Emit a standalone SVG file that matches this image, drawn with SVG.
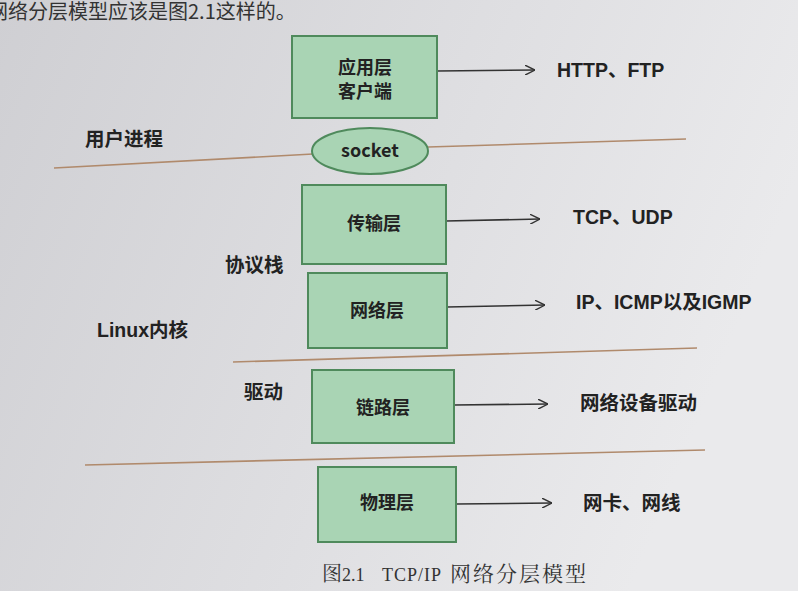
<svg xmlns="http://www.w3.org/2000/svg" width="798" height="591" viewBox="0 0 798 591">
<defs>
<linearGradient id="paper" x1="0" y1="0" x2="1" y2="0.3">
<stop offset="0" stop-color="#cfcfd3"/>
<stop offset="0.6" stop-color="#dfdfe2"/>
<stop offset="1" stop-color="#eaeaec"/>
</linearGradient>
<marker id="arr" viewBox="0 0 10 10" refX="10" refY="5" markerWidth="10" markerHeight="10" markerUnits="userSpaceOnUse" orient="auto">
<path d="M0,0 L10,5 L0,10" fill="none" stroke="#333" stroke-width="1.4"/>
</marker>
<style>
.box{fill:#a9d4b4;stroke:#4f8a5c;stroke-width:2}
.lbl{font-family:"Noto Sans CJK SC","Liberation Sans",sans-serif;font-weight:bold;font-size:18px;fill:#222;text-anchor:middle}
.side{font-family:"Liberation Sans","Noto Sans CJK SC",sans-serif;font-weight:bold;font-size:19.5px;fill:#222}
.sep{stroke:#b08a6c;stroke-width:1.6;fill:none}
.conn{stroke:#333;stroke-width:1.6;fill:none;marker-end:url(#arr)}
.cap{font-family:"Liberation Serif","Noto Serif CJK SC","Noto Sans CJK SC",serif;font-size:18px;fill:#333}
</style>
</defs>
<rect x="0" y="0" width="798" height="591" fill="url(#paper)"/>
<text x="-12" y="19" font-family="Noto Sans CJK SC, sans-serif" font-size="20" fill="#333">网络分层模型应该是图2.1这样的。</text>

<g id="separators">
<line class="sep" x1="54" y1="168" x2="313" y2="154"/>
<line class="sep" x1="428" y1="147" x2="686" y2="139"/>
<line class="sep" x1="233" y1="362" x2="697" y2="348"/>
<line class="sep" x1="85" y1="465" x2="705" y2="450"/>
</g>

<g id="connectors">
<line class="conn" x1="437" y1="71" x2="535" y2="70"/>
<line class="conn" x1="446" y1="221" x2="540" y2="219"/>
<line class="conn" x1="447" y1="307" x2="545" y2="305"/>
<line class="conn" x1="454" y1="405" x2="548" y2="404"/>
<line class="conn" x1="456" y1="504" x2="552" y2="503"/>
</g>

<g id="app">
<rect class="box" x="292" y="36" width="145" height="82"/>
<text class="lbl" x="365" y="74">应用层</text>
<text class="lbl" x="365" y="98">客户端</text>
</g>
<g id="socket">
<ellipse cx="370" cy="151" rx="58" ry="23" fill="#a9d4b4" stroke="#4f8a5c" stroke-width="2"/>
<text class="lbl" x="370" y="157" font-family="Liberation Sans, sans-serif" font-size="14">socket</text>
</g>
<g id="transport">
<rect class="box" x="302" y="185" width="144" height="79"/>
<text class="lbl" x="374" y="230">传输层</text>
</g>
<g id="network">
<rect class="box" x="308" y="273" width="139" height="75"/>
<text class="lbl" x="377" y="317">网络层</text>
</g>
<g id="link">
<rect class="box" x="312" y="370" width="142" height="73"/>
<text class="lbl" x="383" y="414">链路层</text>
</g>
<g id="physical">
<rect class="box" x="318" y="467" width="138" height="75"/>
<text class="lbl" x="387" y="509">物理层</text>
</g>

<g id="labels">
<text class="side" x="557" y="77">HTTP、FTP</text>
<text class="side" x="573" y="224">TCP、UDP</text>
<text class="side" x="576" y="309">IP、ICMP以及IGMP</text>
<text class="side" x="580" y="410">网络设备驱动</text>
<text class="side" x="583" y="510">网卡、网线</text>
<text class="side" x="85" y="146">用户进程</text>
<text class="side" x="225" y="272">协议栈</text>
<text class="side" x="97" y="337">Linux内核</text>
<text class="side" x="244" y="399">驱动</text>
</g>

<text class="cap" x="322" y="581"><tspan font-size="20">图</tspan>2.1<tspan x="382" letter-spacing="1">TCP/IP</tspan><tspan x="450" font-size="21" letter-spacing="2">网络分层模型</tspan></text>
</svg>
